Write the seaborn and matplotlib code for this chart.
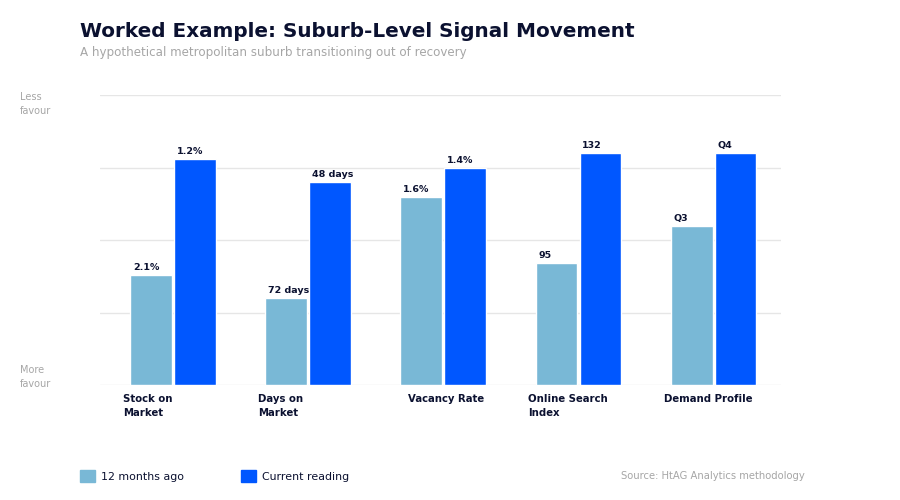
import pandas as pd
import seaborn as sns
from matplotlib import pyplot as plt
from matplotlib.patches import Patch
from matplotlib.transforms import ScaledTranslation

# данные графика
categories = ['Stock on\nMarket', 'Days on\nMarket', 'Vacancy Rate', 'Online Search\nIndex', 'Demand Profile']
periods = ['12 months ago', 'Current reading']
before_scores = [38, 30, 65, 42, 55]
current_scores = [78, 70, 75, 80, 80]
before_labels = ['2.1%', '72 days', '1.6%', '95', 'Q3']
current_labels = ['1.2%', '48 days', '1.4%', '132', 'Q4']

light_blue = '#79b8d6'
strong_blue = '#0057ff'
navy = '#0b1130'
grey = '#a6a6a6'

data = pd.DataFrame({
    'category': categories * 2,
    'period': [periods[0]] * 5 + [periods[1]] * 5,
    'score': before_scores + current_scores,
})

sns.set_theme(style='white')
plt.rcParams['font.family'] = ['DejaVu Sans']

fig = plt.figure(figsize=(9, 5), dpi=100)
ax = fig.add_axes([0.111, 0.23, 0.757, 0.58])

sns.barplot(data=data, x='category', y='score', hue='period', order=categories,
            hue_order=periods, palette=[light_blue, strong_blue], width=0.65, gap=0.05,
            saturation=1, legend=False, ax=ax)

ax.set_ylim(0, 100)
ax.set_xlim(-0.54, 4.5)
ax.set_yticks([0, 25, 50, 75, 100])
ax.set_yticklabels([])
ax.yaxis.grid(True, color='#e6e6e6', linewidth=1)
ax.set_axisbelow(True)
ax.set_xlabel('')
ax.set_ylabel('')
ax.tick_params(axis='both', length=0)
sns.despine(ax=ax, left=True, bottom=True, right=True, top=True)

# подписи категорий
ax.set_xticks(range(len(categories)))
ax.set_xticklabels(categories, fontsize=7.3, fontweight='bold', color=navy,
                   ha='left', va='top', linespacing=1.5)
for i, lbl in enumerate(ax.get_xticklabels()):
    shift = -35 if i == 2 else -50
    lbl.set_transform(lbl.get_transform() + ScaledTranslation(shift / 100, -4 / 100, fig.dpi_scale_trans))

# подписи значений
for container, texts in zip(ax.containers, [before_labels, current_labels]):
    for bar, txt in zip(container, texts):
        ax.annotate(txt, xy=(bar.get_x(), bar.get_height()), xytext=(2, 2),
                    textcoords='offset points', ha='left', va='bottom',
                    fontsize=6.8, fontweight='bold', color=navy)

# заголовки
fig.text(80 / 900, 1 - 37 / 500, 'Worked Example: Suburb-Level Signal Movement',
         fontsize=14.4, fontweight='bold', color=navy, ha='left', va='baseline')
fig.text(80 / 900, 1 - 56 / 500, 'A hypothetical metropolitan suburb transitioning out of recovery',
         fontsize=8.6, color=grey, ha='left', va='baseline')

fig.text(20 / 900, 1 - 104 / 500, 'Less\nfavour', fontsize=7, color=grey, ha='left', va='center', linespacing=1.6)
fig.text(20 / 900, 1 - 377 / 500, 'More\nfavour', fontsize=7, color=grey, ha='left', va='center', linespacing=1.6)

# легенда и источник
handles = [Patch(color=light_blue), Patch(color=strong_blue)]
fig.legend(handles, periods, loc='center left', bbox_to_anchor=(70 / 900, 1 - 476 / 500),
           ncol=2, frameon=False, fontsize=7.9, handlelength=1.4, handleheight=1.2,
           handletextpad=0.5, columnspacing=5.2, labelcolor=navy)
fig.text(805 / 900, 1 - 476 / 500, 'Source: HtAG Analytics methodology',
         fontsize=7.2, color=grey, ha='right', va='center')

fig.savefig('out.png', dpi=100)
